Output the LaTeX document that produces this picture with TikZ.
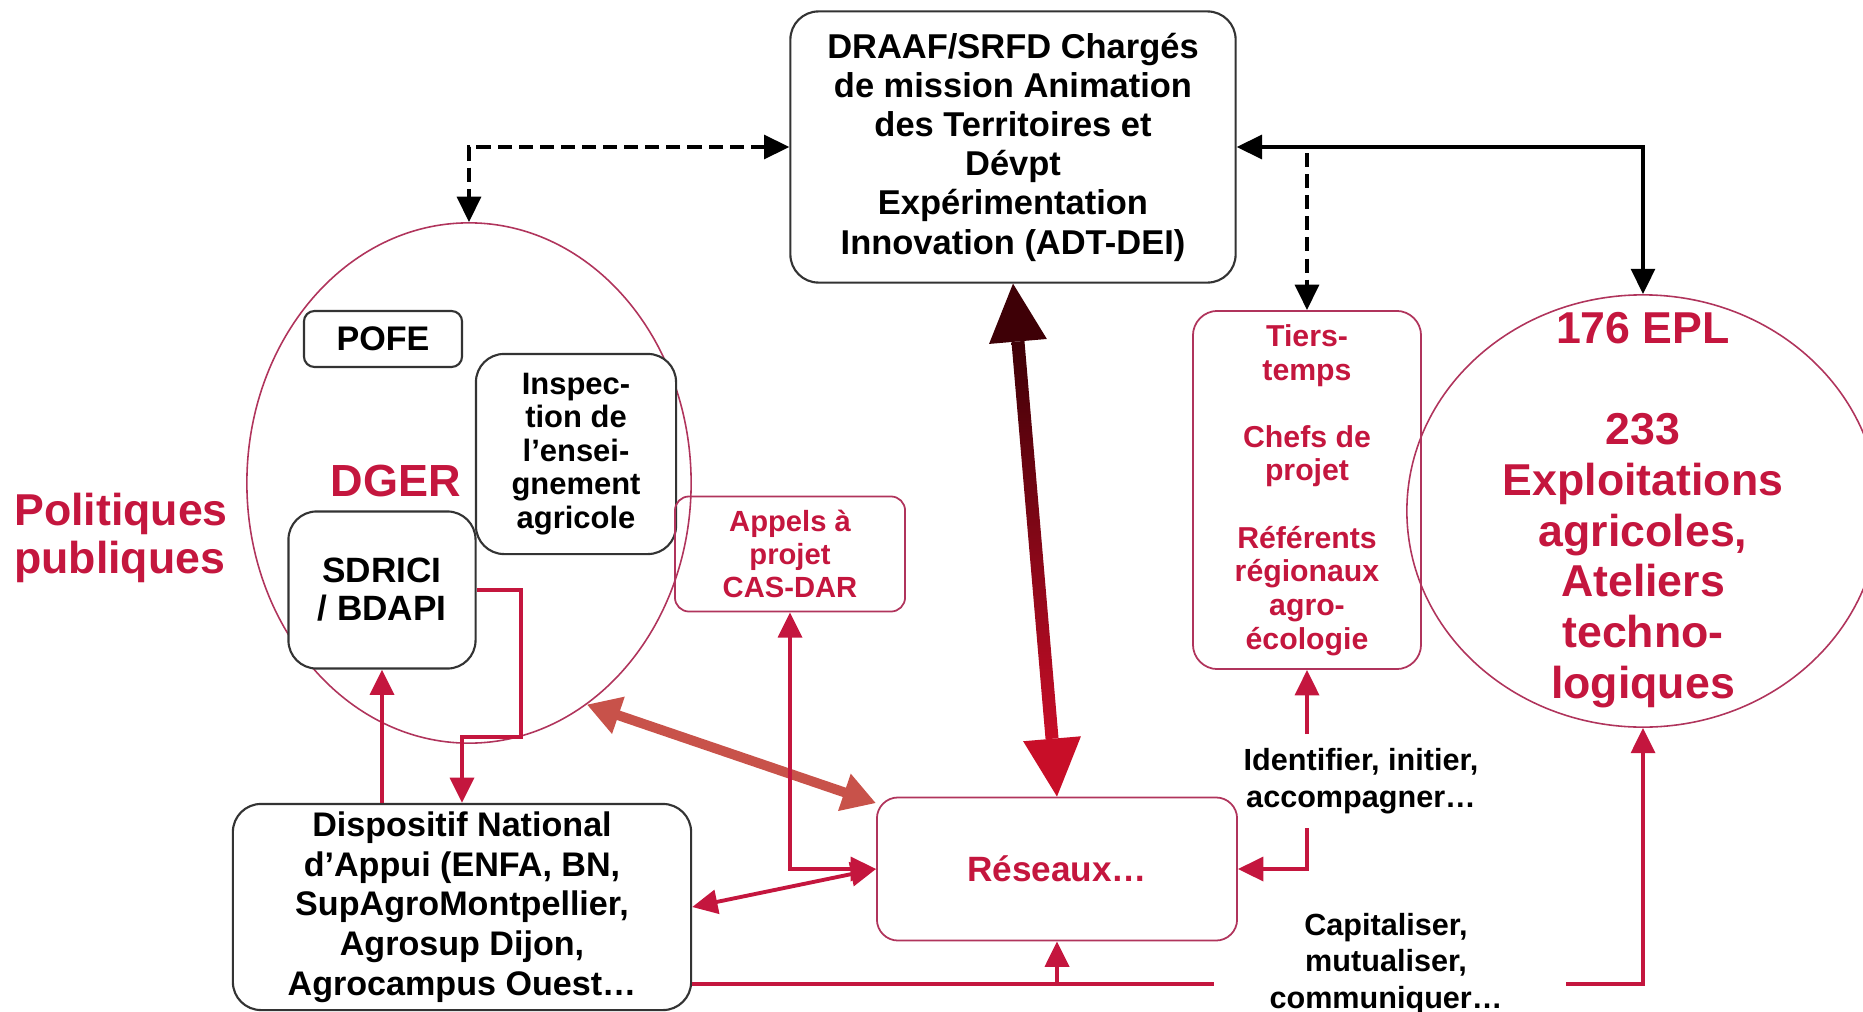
\documentclass[tikz,border=0pt]{standalone}
\usepackage{fontspec}
\setmainfont{Liberation Sans}
\usepackage{xcolor}
\usepackage{tikz}
\usetikzlibrary{arrows.meta,positioning,calc,shapes.geometric}
\definecolor{crim}{RGB}{196,22,62}
\definecolor{rimline}{RGB}{176,52,92}
\definecolor{salmon}{RGB}{200,82,74}
\definecolor{darkmaroon}{RGB}{62,0,6}
\definecolor{brightred}{RGB}{222,0,16}
\definecolor{headred}{RGB}{200,14,40}
\tikzset{
	blackbox/.style={draw=black!80, fill=white, rounded corners=8pt, align=center, inner sep=0pt, line width=0.6pt},
	redbox/.style={draw=rimline, rounded corners=6pt, align=center, inner sep=0pt, line width=0.5pt, text=crim},
	ring/.style={draw=rimline, ellipse, inner sep=0pt, line width=0.45pt},
	blackarrow/.style={line width=0.95pt, black},
	dashedarrow/.style={line width=0.95pt, black, dash pattern=on 4pt off 2pt},
	redarrow/.style={line width=1.1pt, crim},
	redlabel/.style={text=crim, font=\bfseries}
}

\begin{document}
\begin{tikzpicture}[x=0.01cm, y=-0.01cm,
			>={Triangle[length=7.2pt, width=6.8pt]},
			verb/.style={align=center, font=\fontsize{8.7}{10.4}\selectfont\bfseries},
			]
			
			%% -- Frame
			\useasboundingbox (0,0) rectangle (1863,1012);
			\clip (0,0) rectangle (1863,1012);
			
			%% -- DGER ellipse and its boxes
			\node[ring, minimum width=4.44cm, minimum height=5.20cm] (dger) at (469,483) {};
			
			\node[redlabel, font=\fontsize{12.8}{14}\selectfont\bfseries] (dgerlbl) at (396,481) {DGER};
			
			\node[blackbox, rounded corners=3pt, minimum width=1.58cm, minimum height=0.56cm,
			font=\fontsize{9.7}{11}\selectfont\bfseries] (pofe) at (383,339)
			{POFE};
			
			\node[blackbox, minimum width=2.00cm, minimum height=2.00cm,
			font=\fontsize{8.8}{9.5}\selectfont\bfseries] (insp) at (576,454)
			{Inspec-\\tion de\\l’ensei-\\gnement\\agricole};
			
			\node[blackbox, minimum width=1.87cm, minimum height=1.57cm,
			font=\fontsize{10}{10.8}\selectfont\bfseries] (sdrici) at (382,590)
			{SDRICI\\/ BDAPI};
			
			\node[redlabel, align=left, font=\fontsize{12.7}{13.5}\selectfont\bfseries] (polit) at (121,538)
			{Politiques\\publiques};
			
			%% -- Top box
			\node[blackbox, minimum width=4.45cm, minimum height=2.71cm,
			font=\fontsize{9.8}{11.15}\selectfont\bfseries] (draaf) at (1013,147)
			{DRAAF/SRFD Chargés\\de mission Animation\\des Territoires et\\Dévpt\\Expérimentation\\Innovation (ADT-DEI)};
			
			%% -- Red boxes
			\node[redbox, rounded corners=4pt, minimum width=2.30cm, minimum height=1.15cm,
			font=\fontsize{8.3}{9.3}\selectfont\bfseries] (appels) at (790,554)
			{Appels à\\projet\\CAS-DAR};
			
			\node[redbox, rounded corners=7pt, minimum width=2.28cm, minimum height=3.58cm,
			font=\fontsize{8.6}{9.56}\selectfont\bfseries] (tiers) at (1307,490)
			{Tiers-\\temps\\[9.56pt]Chefs de\\projet\\[9.56pt]Référents\\régionaux\\agro-\\écologie};
			
			\node[redbox, rounded corners=6pt, minimum width=3.60cm, minimum height=1.43cm,
			font=\fontsize{10}{12}\selectfont\bfseries] (reseaux) at (1057,869)
			{Réseaux…};
			
			%% -- EPL ellipse
			\node[ring, minimum width=4.72cm, minimum height=4.32cm] (epl) at (1643,511) {};
			\node[redlabel, align=center, font=\fontsize{12.7}{14.4}\selectfont\bfseries] (epllbl) at (1643,510)
			{176 EPL\\[14.4pt]233\\Exploitations\\agricoles,\\Ateliers\\techno-\\logiques};
			
			%% -- Dispositif national
			\node[blackbox, minimum width=4.58cm, minimum height=2.06cm,
			font=\fontsize{9.7}{11.3}\selectfont\bfseries] (dispo) at (462,907)
			{Dispositif National\\d’Appui (ENFA, BN,\\SupAgroMontpellier,\\Agrosup Dijon,\\Agrocampus Ouest…};
			
			%% -- Verb labels
			\node[verb] (ident) at (1361,781) {Identifier, initier,\\accompagner…};
			\node[verb] (capital) at (1386,964) {Capitaliser,\\mutualiser,\\communiquer…};
			
			%% -- Black links from the top box
			\draw[dashedarrow, <->] (draaf.west) -| (dger.north);
			\draw[blackarrow, <->] (draaf.east) -| (epl.north);
			\coordinate (tierstop) at (1307,153);
			\draw[dashedarrow, ->] (tierstop) -- (tiers.north);
			
			%% -- Big shaded double arrow
			\coordinate (gA) at (draaf.south);
			\coordinate (gB) at (reseaux.north);
			\coordinate (gA1) at ($(gA)!0.58cm!(gB)$);
			\coordinate (gB1) at ($(gB)!0.58cm!(gA)$);
			\shade[top color=darkmaroon, middle color=brightred, bottom color=headred]
			($(gA1)!0.065cm!90:(gB)$) -- ($(gA1)!0.065cm!-90:(gB)$)
			-- ($(gB1)!0.065cm!90:(gA)$) -- ($(gB1)!0.065cm!-90:(gA)$) -- cycle;
			\fill[darkmaroon] (gA) -- ($(gA1)!0.29cm!90:(gB)$) -- ($(gA1)!0.29cm!-90:(gB)$) -- cycle;
			\fill[headred] (gB) -- ($(gB1)!0.29cm!90:(gA)$) -- ($(gB1)!0.29cm!-90:(gA)$) -- cycle;
			
			%% -- Salmon link DGER / Reseaux
			\draw[salmon, line width=2.8pt, {Triangle[length=9.5pt, width=10.5pt]}-{Triangle[length=9.5pt, width=10.5pt]}]
			(dger.-62) -- (reseaux.160);
			
			%% -- Red links
			\draw[redarrow, ->] (sdrici.east) -- ++(44,0) -- ++(0,147) -| (dispo.north);
			\draw[redarrow, ->] (dispo.north -| sdrici.south) -- (sdrici.south);
			\draw[redarrow, <->] (dispo.east) -- (reseaux.west);
			\draw[redarrow, <->] (appels.south) |- (reseaux.west);
			
			\coordinate (idtop) at (1307,734);
			\coordinate (idbot) at (1307,828);
			\draw[redarrow, ->] (idtop) -- (tiers.south);
			\draw[redarrow, ->] (idbot) |- (reseaux.east);
			
			\coordinate (capL) at (1214,984);
			\coordinate (capR) at (1566,984);
			\draw[redarrow] (dispo.south east |- capL) -- (capL);
			\draw[redarrow, ->] (reseaux.south |- capL) -- (reseaux.south);
			\draw[redarrow, ->] (capR) -| (epl.south);
			
		\end{tikzpicture}
\end{document}
